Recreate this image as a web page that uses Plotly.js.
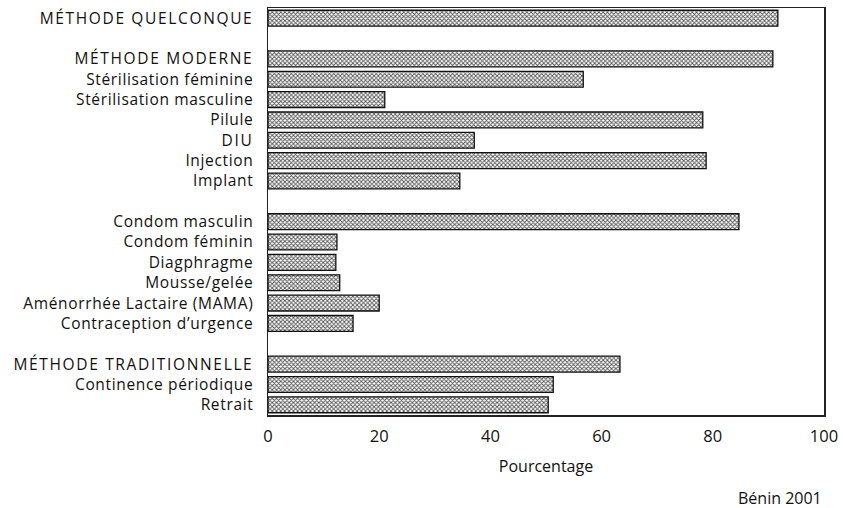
<!DOCTYPE html>
<html><head><meta charset="utf-8">
<script src="https://cdn.plot.ly/plotly-3.0.1.min.js"></script>
<style>html,body{margin:0;padding:0;background:#fff;}</style>
</head><body>
<div id="chart" style="width:843px;height:508px;"></div>
<script>
// null entries are blank separator rows
const categories = [
  "MÉTHODE QUELCONQUE", null,
  "MÉTHODE MODERNE", "Stérilisation féminine", "Stérilisation masculine", "Pilule", "DIU", "Injection", "Implant", null,
  "Condom masculin", "Condom féminin", "Diagphragme", "Mousse/gelée", "Aménorrhée Lactaire (MAMA)", "Contraception d’urgence", null,
  "MÉTHODE TRADITIONNELLE", "Continence périodique", "Retrait"
];
const values = [
  91.7, null,
  90.8, 56.7, 21.0, 78.2, 37.1, 78.8, 34.5, null,
  84.7, 12.4, 12.2, 12.9, 20.0, 15.3, null,
  63.3, 51.3, 50.4
];
const xTicks = [0, 20, 40, 60, 80, 100];

const ys = [], xs = [], tv = [], tt = [];
categories.forEach((c, i) => {
  if (c !== null) {
    ys.push(i); xs.push(values[i]); tv.push(i);
    const sp = c === c.toUpperCase() ? 1.65 : 0.65;
    tt.push('<span style="letter-spacing:' + sp + 'px">' + c + '</span>');
  }
});

const font = "'Open Sans', Lato, sans-serif";
Plotly.newPlot('chart', [{
  type: 'bar', orientation: 'h', x: xs, y: ys, width: 0.78,
  marker: {
    color: '#ffffff',
    line: {color: '#111', width: 1.3},
    pattern: {shape: 'x', fgcolor: '#555', bgcolor: '#ffffff', size: 3, solidity: 0.5}
  },
  hoverinfo: 'none'
}], {
  width: 843, height: 508,
  margin: {l: 268, r: 19, t: 8, b: 93},
  paper_bgcolor: '#fff', plot_bgcolor: '#fff',
  showlegend: false,
  bargap: 0,
  xaxis: {
    range: [0, 100], tickvals: xTicks, ticks: '', showgrid: false, zeroline: false,
    showline: true, mirror: true, linecolor: '#222', linewidth: 1.5,
    ticklabelstandoff: 6,
    tickfont: {family: font, size: 16.5, color: '#111'},
    title: {text: 'Pourcentage', font: {family: font, size: 16, color: '#111'}, standoff: 14}
  },
  yaxis: {
    range: [19.5, -0.5], tickvals: tv, ticktext: tt, ticks: '', showgrid: false, zeroline: false,
    showline: true, mirror: true, linecolor: '#222', linewidth: 1.5,
    ticklabelstandoff: 10,
    tickfont: {family: font, size: 15.5, color: '#111'}
  },
  annotations: [{
    text: 'Bénin 2001', xref: 'paper', yref: 'paper', x: 1.0, y: -0.205,
    xanchor: 'right', yanchor: 'middle', showarrow: false,
    font: {family: font, size: 16, color: '#111'}
  }]
}, {staticPlot: true});
</script>
</body></html>
